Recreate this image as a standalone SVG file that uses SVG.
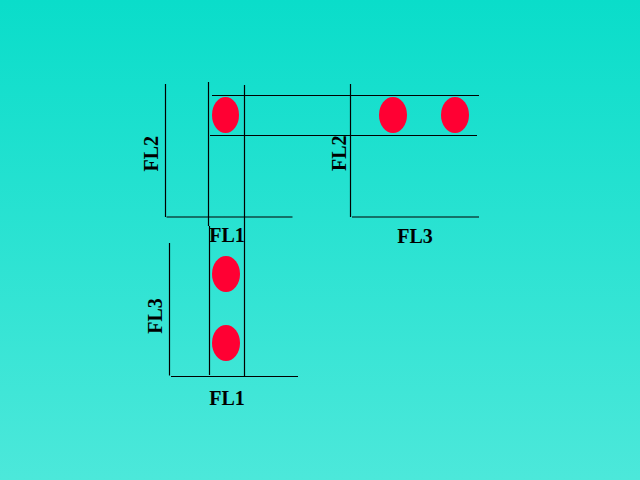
<svg xmlns="http://www.w3.org/2000/svg" width="640" height="480" viewBox="0 0 640 480">
<defs>
<linearGradient id="bg" x1="0" y1="0" x2="0" y2="1">
<stop offset="0" stop-color="#0ADDCA"/>
<stop offset="1" stop-color="#4CE8DA"/>
</linearGradient>
</defs>
<style>
.ln{stroke:#000;stroke-width:1.2;fill:none}
.dot{fill:#FF0033}
.lbl{font-family:"Liberation Serif","Times New Roman",serif;font-weight:bold;font-size:20px;fill:#000;text-anchor:middle}
</style>
<rect width="640" height="480" fill="url(#bg)"/>
<g id="connectors">
<line class="ln" x1="165.5" y1="84" x2="165.5" y2="217"/>
<line class="ln" x1="166.5" y1="217" x2="292.5" y2="217"/>
<line class="ln" x1="208.5" y1="82" x2="208.5" y2="226"/>
<line class="ln" x1="209.5" y1="226" x2="209.5" y2="375"/>
<line class="ln" x1="244.5" y1="85" x2="244.5" y2="376"/>
<line class="ln" x1="212" y1="95.5" x2="479" y2="95.5"/>
<line class="ln" x1="210" y1="135.5" x2="477" y2="135.5"/>
<line class="ln" x1="350.5" y1="84" x2="350.5" y2="217"/>
<line class="ln" x1="352" y1="217" x2="479" y2="217"/>
<line class="ln" x1="169.5" y1="243" x2="169.5" y2="375.5"/>
<line class="ln" x1="171" y1="376.5" x2="298" y2="376.5"/>
</g>
<g id="plot-fl1-fl2">
<ellipse class="dot" cx="225.5" cy="115" rx="13.5" ry="18"/>
<text class="lbl" transform="translate(157.7,153.7) rotate(-90)">FL2</text>
<text class="lbl" x="227" y="241.7">FL1</text>
</g>
<g id="plot-fl3-fl2">
<ellipse class="dot" cx="393" cy="115" rx="14" ry="18"/>
<ellipse class="dot" cx="455" cy="115" rx="14" ry="18"/>
<text class="lbl" transform="translate(346,153.3) rotate(-90)">FL2</text>
<text class="lbl" x="415" y="242.7">FL3</text>
</g>
<g id="plot-fl1-fl3">
<ellipse class="dot" cx="226" cy="274" rx="14" ry="18"/>
<ellipse class="dot" cx="226" cy="343" rx="14" ry="18"/>
<text class="lbl" transform="translate(162.3,316) rotate(-90)">FL3</text>
<text class="lbl" x="227" y="405">FL1</text>
</g>
</svg>
